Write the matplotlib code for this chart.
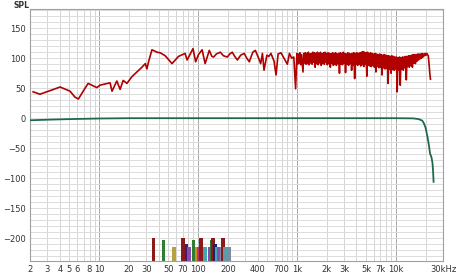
import matplotlib
matplotlib.use("Agg")
import matplotlib.pyplot as plt

spl_freq = [2.15, 2.52, 3.2, 4.03, 5.08, 5.71, 6.17, 6.9, 7.74, 9.48, 10.2, 12.9, 13.5,
            15.1, 16.3, 17.5, 19.1, 21.4, 24.1, 27.1, 29.3, 30.4, 31.6, 34.2, 38.4,
            41.5, 46.6, 54.6, 63.5, 74, 77.6, 89, 94.6, 101, 110,
            118, 130, 138, 144, 153, 168, 181, 198, 209, 222, 235, 250, 270,
            293, 311, 330, 358, 380, 410, 430, 448, 465, 497, 521, 547, 587, 615,
            645, 690, 740, 800, 840, 885, 930, 970,
            1000, 1018, 1036, 1054, 1073, 1092, 1112, 1131, 1152, 1172,
            1193, 1214, 1236, 1258, 1281, 1304, 1327, 1350, 1375, 1399,
            1424, 1449, 1476, 1502, 1529, 1556, 1584, 1612, 1641, 1670,
            1700, 1730, 1761, 1792, 1824, 1857, 1890, 1924, 1958, 1993,
            2029, 2065, 2102, 2139, 2177, 2216, 2256, 2296, 2337, 2378,
            2421, 2464, 2508, 2553, 2599, 2645, 2692, 2740, 2789, 2839,
            2890, 2941, 2994, 3047, 3101, 3157, 3213, 3270, 3329, 3388,
            3449, 3510, 3573, 3637, 3701, 3767, 3835, 3903, 3973, 4044,
            4116, 4189, 4264, 4340, 4418, 4496, 4577, 4658, 4742, 4826,
            4912, 5000, 5089, 5180, 5273, 5366, 5462, 5560, 5659, 5760,
            5863, 5967, 6074, 6182, 6293, 6405, 6519, 6636, 6754, 6875,
            6998, 7122, 7249, 7379, 7510, 7644, 7781, 7920, 8061, 8205,
            8351, 8500, 8652, 8806, 8963, 9123, 9286, 9452, 9620, 9792,
            9967, 10145, 10326, 10510, 10697, 10888, 11083, 11280, 11481, 11686,
            11895, 12107, 12323, 12543, 12766, 12994, 13226, 13462, 13702, 13946,
            14195, 14448, 14706, 14968, 15235, 15507, 15784, 16065, 16352, 16644,
            16940, 17243, 17550, 17863, 18182, 18506, 18837, 19173, 19515, 19863,
            20217, 20578, 20945, 21300, 21700, 22050, 22400]
spl_db = [44, 40, 46, 52, 45, 35, 32, 45, 58, 51, 55, 59, 45,
          62, 48, 63, 58, 69, 77, 85, 91, 82, 94, 114, 110,
          109, 104, 91, 103, 108, 97, 116, 94, 106, 114,
          91, 113, 103, 102, 107, 110, 104, 102, 107, 110, 103, 97, 105,
          108, 100, 94, 110, 113, 100, 91, 108, 80, 105, 103, 108, 95, 72,
          107, 109, 100, 90, 108, 100, 102, 49,
          108, 90, 107, 92, 109, 89, 106, 91, 77, 108,
          92, 109, 90, 108, 91, 110, 89, 107, 92, 108,
          90, 110, 93, 109, 85, 108, 91, 110, 89, 108,
          92, 110, 88, 107, 91, 109, 90, 110, 93, 108,
          89, 109, 91, 108, 85, 107, 92, 109, 88, 108,
          90, 109, 88, 107, 91, 108, 75, 109, 90, 108,
          89, 110, 92, 108, 76, 107, 90, 109, 88, 108,
          91, 107, 80, 108, 89, 109, 66, 108, 90, 109,
          88, 108, 90, 109, 87, 110, 89, 111, 86, 110,
          90, 109, 70, 110, 88, 108, 87, 109, 86, 108,
          88, 107, 85, 108, 77, 107, 86, 106, 84, 107,
          85, 106, 72, 105, 84, 106, 82, 105, 83, 104,
          58, 104, 82, 103, 75, 104, 81, 103, 80, 102,
          82, 102, 44, 101, 80, 102, 55, 101, 82, 102,
          80, 102, 84, 103, 64, 103, 86, 104, 85, 104,
          88, 105, 85, 106, 92, 106, 91, 106, 95, 107,
          97, 107, 99, 107, 100, 108, 102, 107, 104, 108,
          105, 108, 106, 104, 90, 75, 65]

# target / filter curve (green)
tgt_freq = [2, 3, 5, 10, 20, 100, 1000, 10000, 15000, 17000, 18500, 19300, 20000,
            20900, 21600, 22200, 22700, 23000, 23500, 23800, 24100]
tgt_db = [-3.5, -2.5, -1.5, -0.5, 0, 0, 0, 0, -0.3, -1.5, -4, -9, -16,
          -31, -45, -59, -63, -66, -75, -88, -106]

# filter markers along the bottom
bar_freq = [34, 43, 55, 68, 73, 78, 86, 94, 97, 103, 113, 127, 131, 136, 143, 150,
            157, 165, 172, 180, 189, 198]
bar_top = [-200, -203, -215, -200, -210, -215, -203, -215, -215, -200, -215, -215,
           -203, -200, -210, -215, -215, -215, -200, -215, -215, -215]
bar_col = ['#8b1a1a', '#2e7d32', '#b8a040', '#8b1a1a', '#3a1f7a', '#8a4ab0', '#2e7d32',
           '#c8902a', '#c0306a', '#8b1a1a', '#3fa8b0', '#8a4ab0', '#2e7d32', '#8b1a1a',
           '#1f1f70', '#3fa8b0', '#8a4ab0', '#7a8ea0', '#8b1a1a', '#7a8ea0', '#3fa8b0',
           '#7a8ea0']

xtick_pos = [2, 3, 4, 5, 6, 8, 10, 20, 30, 50, 70, 100, 200, 400, 700, 1000,
             2000, 3000, 5000, 7000, 10000, 30000]
xtick_lab = ['2', '3', '4', '5', '6', '8', '10', '20', '30', '50', '70', '100', '200',
             '400', '700', '1k', '2k', '3k', '5k', '7k', '10k', '30kHz']
ytick_pos = [150, 100, 50, 0, -50, -100, -150, -200]

fig = plt.figure(figsize=(4.58, 2.75), dpi=100)
ax = fig.add_axes([30 / 458, 1 - 261 / 275, 413 / 458, 252 / 275])
ax.set_xscale('log')
ax.set_xlim(2, 30000)
ax.set_ylim(-238, 182)

# grid
for dec in [1, 10, 100, 1000, 10000]:
    for m in range(1, 10):
        f = dec * m
        if 2 <= f <= 30000:
            col = '#a8a8a8' if m == 1 else '#d4d4d4'
            ax.axvline(f, color=col, lw=0.7, zorder=0)
for y in range(-230, 181, 10):
    ax.axhline(y, color='#dcdcdc', lw=0.7, zorder=0)

# bars
for f, t, c in zip(bar_freq, bar_top, bar_col):
    ax.bar(f, t + 238, bottom=-238, width=f * 0.08, align='edge', color=c,
           edgecolor='none', zorder=2)

ax.plot(spl_freq, spl_db, color='#b00000', lw=1.2, zorder=3)
ax.plot(tgt_freq, tgt_db, color='#1e6a48', lw=1.3, zorder=3)

ax.set_xticks(xtick_pos)
ax.set_xticklabels(xtick_lab)
ax.set_xticks([], minor=True)
ax.set_yticks(ytick_pos)
ax.tick_params(length=0, labelsize=6, colors='#333333', pad=3)
for s in ax.spines.values():
    s.set_color('#a0a0a0')
    s.set_linewidth(0.8)

fig.text(21 / 458, 1 - 5 / 275, 'SPL', fontsize=5.5, ha='center', va='center',
         color='#333333', fontweight='bold')

fig.savefig('out.png', dpi=100)
